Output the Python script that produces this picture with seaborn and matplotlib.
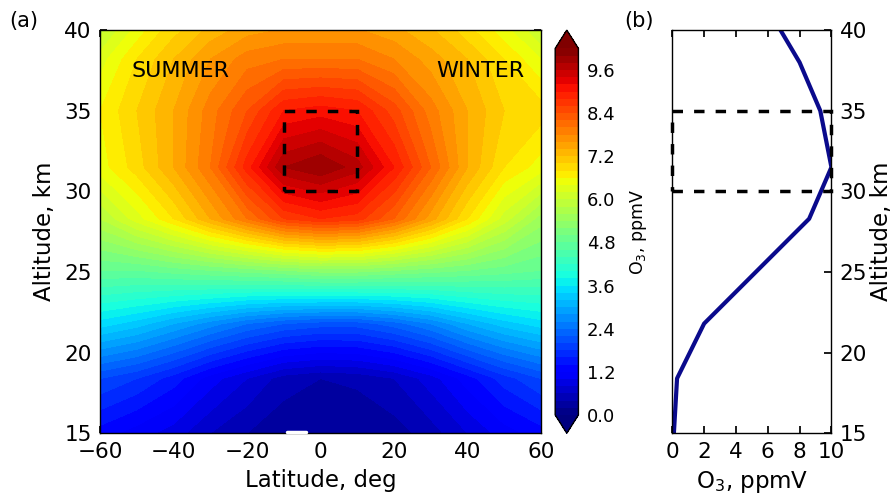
import numpy as np
import matplotlib
matplotlib.use("Agg")
import matplotlib.pyplot as plt
from matplotlib.patches import Rectangle
import seaborn as sns

# latitude / altitude grid of the ozone field
lat = [-60, -50, -40, -30, -20, -10, 0, 10, 20, 30, 40, 50, 60]
alt = [15.0, 18.4, 21.8, 25.1, 28.3, 31.5, 35.0, 38.2, 41.5]
o3_field = [
    [1.3, 1.1, 0.9, 0.6, 0.4, 0.25, 0.2, 0.2, 0.3, 0.5, 0.8, 1.1, 1.3],
    [2.0, 1.8, 1.5, 1.1, 0.8, 0.5, 0.4, 0.45, 0.6, 0.9, 1.3, 1.7, 2.0],
    [3.5, 3.3, 3.0, 2.7, 2.4, 2.2, 2.1, 2.1, 2.3, 2.6, 3.0, 3.3, 3.5],
    [4.8, 4.8, 4.9, 5.0, 5.1, 5.2, 5.3, 5.3, 5.2, 5.1, 5.0, 4.9, 4.8],
    [5.8, 6.3, 6.8, 7.4, 8.0, 8.6, 8.8, 8.7, 8.2, 7.5, 6.8, 6.1, 5.5],
    [6.5, 6.9, 7.4, 8.0, 8.9, 9.8, 10.0, 9.7, 9.0, 8.2, 7.4, 6.8, 6.5],
    [6.6, 7.0, 7.4, 7.9, 8.4, 9.0, 9.1, 9.0, 8.5, 7.9, 7.4, 7.0, 6.9],
    [6.3, 6.8, 7.2, 7.6, 7.9, 8.0, 8.0, 8.0, 7.8, 7.5, 7.2, 6.8, 6.4],
    [5.6, 6.2, 6.7, 7.0, 7.2, 7.3, 7.3, 7.3, 7.2, 7.0, 6.6, 6.2, 5.6],
]

# profile in panel (b)
profile_o3 = [0.1, 0.3, 2.0, 8.6, 10.0, 9.3, 8.0, 6.8]
profile_alt = [15.0, 18.4, 21.8, 28.3, 31.5, 35.0, 38.0, 40.0]

# selected box
box_lat = [-10, 10]
box_alt = [30, 35]
gap_lat = [-9, -4]

sns.set_theme(style="ticks")
plt.rcParams['font.family'] = ['DejaVu Sans']
plt.rcParams.update({
    'xtick.direction': 'in', 'ytick.direction': 'in',
    'xtick.top': True, 'ytick.right': True,
    'xtick.major.size': 5, 'ytick.major.size': 5,
    'xtick.major.pad': 6, 'ytick.major.pad': 6,
    'axes.linewidth': 1.0, 'axes.edgecolor': 'black',
    'xtick.color': 'black', 'ytick.color': 'black',
    'text.color': 'black', 'axes.labelcolor': 'black',
    'xtick.labelsize': 15.5, 'ytick.labelsize': 15.5,
    'axes.labelsize': 16.5,
})
dash = (0, (3, 3.2))

fig = plt.figure(figsize=(8.94, 4.94), dpi=100)
ax = fig.add_axes([0.112, 0.123, 0.493, 0.816])
cax = fig.add_axes([0.621, 0.123, 0.026, 0.816])
ax2 = fig.add_axes([0.752, 0.123, 0.178, 0.816])

# (a) contour field
levels = np.arange(0, 10.3, 0.2)
cs = ax.contourf(lat, alt, np.array(o3_field), levels=levels, cmap='jet', extend='both')
ax.add_patch(Rectangle((box_lat[0], box_alt[0]), box_lat[1] - box_lat[0], box_alt[1] - box_alt[0],
                       fill=False, edgecolor='black', linestyle=dash, linewidth=2.5, zorder=5))
ax.plot(gap_lat, [15.1, 15.1], color='white', linewidth=2.5, zorder=6, clip_on=False)
ax.set_xlim(-60, 60)
ax.set_ylim(15, 40)
ax.set_xticks([-60, -40, -20, 0, 20, 40, 60])
ax.set_yticks([15, 20, 25, 30, 35, 40])
ax.set_xlabel('Latitude, deg', labelpad=5)
ax.set_ylabel('Altitude, km', labelpad=6)
ax.text(-51.5, 37.1, 'SUMMER', fontsize=16)
ax.text(55.5, 37.1, 'WINTER', fontsize=16, ha='right')
fig.text(0.010, 0.945, '(a)', fontsize=15)

cb = fig.colorbar(cs, cax=cax)
cb.set_label('O$_3$, ppmV', fontsize=12.5, labelpad=9)
cb.ax.tick_params(labelsize=13, direction='in', length=5, right=True)
cb.ax.yaxis.set_major_formatter(matplotlib.ticker.FormatStrFormatter('%.1f'))
cb.outline.set_linewidth(1.0)

# (b) profile
sns.lineplot(x=profile_o3, y=profile_alt, sort=False, orient='y', ax=ax2,
             color='#0a0a8c', linewidth=3)
ax2.add_patch(Rectangle((0, box_alt[0]), 10, box_alt[1] - box_alt[0], fill=False,
                        edgecolor='black', linestyle=dash, linewidth=2.5,
                        zorder=5, clip_on=False))
ax2.set_xlim(0, 10)
ax2.set_ylim(15, 40)
ax2.set_xticks([0, 2, 4, 6, 8, 10])
ax2.set_yticks([15, 20, 25, 30, 35, 40])
ax2.yaxis.tick_right()
ax2.yaxis.set_label_position('right')
ax2.tick_params(axis='y', left=False, right=True)
ax2.set_xlabel('O$_3$, ppmV', labelpad=5)
ax2.set_ylabel('Altitude, km', labelpad=2)
fig.text(0.698, 0.945, '(b)', fontsize=15)

fig.savefig('out.png', dpi=100)
